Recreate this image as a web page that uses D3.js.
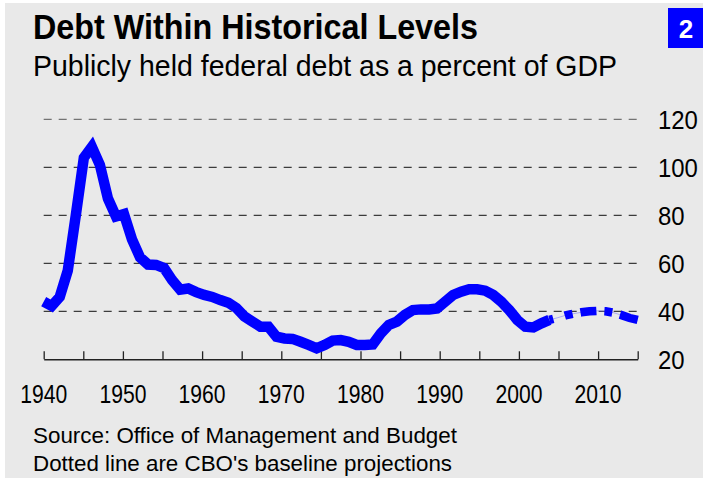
<!DOCTYPE html>
<html>
<head>
<meta charset="utf-8">
<script src="https://cdn.jsdelivr.net/npm/d3@7"></script>
<style>
  html, body { margin: 0; padding: 0; background: #ffffff; }
  svg { display: block; }
  text { font-family: "Liberation Sans", Arial, sans-serif; fill: #000; }
</style>
</head>
<body>
<svg id="chart" width="703" height="481"></svg>
<script>
// Publicly held federal debt, percent of GDP (fiscal years)
const actualYears = d3.range(1940, 2004);
const actualValues = [
  44.0, 42.2, 46.0, 57.0, 80.0, 104.0, 108.5, 101.0, 87.0, 79.5,   // 1940s
  80.5, 70.0, 62.5, 59.5, 59.3, 58.0, 53.0, 49.0, 49.5, 48.0,      // 1950s
  46.8, 46.0, 44.7, 43.6, 41.4, 37.9, 35.7, 33.6, 33.6, 29.4,      // 1960s
  28.7, 28.5, 27.3, 26.0, 24.6, 26.0, 27.8, 28.0, 27.3, 26.0,      // 1970s
  26.0, 26.2, 30.8, 34.3, 35.7, 38.5, 40.5, 40.8, 40.8, 41.2,      // 1980s
  44.0, 46.8, 48.2, 49.2, 49.2, 48.6, 46.8, 44.0, 40.5, 36.4,      // 1990s
  33.6, 33.3, 35.0, 36.4                                           // 2000-2003
];

// CBO baseline projections
const projectionYears = d3.range(2003, 2015);
const projectionValues = [36.4, 37.3, 38.3, 39.0, 39.6, 40.0, 40.2, 40.0, 39.4, 38.4, 37.2, 36.4];

const xTickYears = d3.range(1940, 2016, 5);
const xLabelYears = d3.range(1940, 2011, 10);
const yTickValues = [20, 40, 60, 80, 100, 120];

const titleText = "Debt Within Historical Levels";
const subtitleText = "Publicly held federal debt as a percent of GDP";
const sourceLines = ["Source: Office of Management and Budget", "Dotted line are CBO's baseline projections"];
const badgeText = "2";

const svg = d3.select("#chart");
const W = 703, H = 481;

// panel background
svg.append("rect")
  .attr("x", 5).attr("y", 3).attr("width", W - 5).attr("height", 475)
  .attr("fill", "#e9e9e9");

// plot area
const plotLeft = 43.7, plotRight = 637.7, plotTop = 119.3, plotBottom = 359.3;

// axis spans 1940-2015; annual points spread across the same width
const xAxisScale = d3.scaleLinear().domain([1940, 2015]).range([plotLeft, plotRight]);
const xData = d3.scaleLinear().domain([1940, 2014]).range([plotLeft, plotRight]);
const y = d3.scaleLinear().domain([20, 120]).range([plotBottom, plotTop]);

// dashed gridlines
svg.append("g")
  .selectAll("line")
  .data(yTickValues.filter(v => v > 20))
  .join("line")
  .attr("x1", plotLeft).attr("x2", plotRight)
  .attr("y1", d => y(d)).attr("y2", d => y(d))
  .attr("stroke", d => d === 120 ? "#555" : "#111")
  .attr("stroke-width", 1)
  .attr("stroke-dasharray", "8,7");

// right-hand value labels
svg.append("g")
  .selectAll("text")
  .data(yTickValues)
  .join("text")
  .attr("x", 658)
  .attr("y", d => y(d) + 10)
  .attr("font-size", 26)
  .attr("textLength", d => String(d).length * 13.3)
  .attr("lengthAdjust", "spacingAndGlyphs")
  .text(d => d);

// x axis: baseline with upward ticks
const xAxis = d3.axisTop(xAxisScale)
  .tickValues(xTickYears)
  .tickSize(8)
  .tickSizeOuter(0)
  .tickFormat("");
const axisG = svg.append("g")
  .attr("transform", `translate(0,${plotBottom})`)
  .call(xAxis);
axisG.select(".domain").attr("stroke", "#222").attr("stroke-width", 1.5);
axisG.selectAll(".tick line").attr("stroke", "#222").attr("stroke-width", 1.3);

// year labels
svg.append("g")
  .selectAll("text")
  .data(xLabelYears)
  .join("text")
  .attr("x", d => xAxisScale(d))
  .attr("y", 403)
  .attr("text-anchor", "middle")
  .attr("font-size", 26)
  .attr("textLength", 47)
  .attr("lengthAdjust", "spacingAndGlyphs")
  .text(d => d);

const line = d3.line()
  .x(d => xData(d[0]))
  .y(d => y(d[1]))
  .curve(d3.curveLinear);

const actual = actualYears.map((yr, i) => [yr, actualValues[i]]);
const projection = projectionYears.map((yr, i) => [yr, projectionValues[i]]);

// faint connector under the projected dashes
svg.append("path")
  .datum(projection)
  .attr("d", line)
  .attr("fill", "none")
  .attr("stroke", "#6a6aff")
  .attr("stroke-opacity", 0.5)
  .attr("stroke-width", 1);

// projected path, dashed
svg.append("path")
  .datum(projection)
  .attr("d", line)
  .attr("fill", "none")
  .attr("stroke", "#0000ff")
  .attr("stroke-width", 8.5)
  .attr("stroke-dasharray", "4,12,8,8,16,8,8,8,20");

// historical path
svg.append("path")
  .datum(actual)
  .attr("d", line)
  .attr("fill", "none")
  .attr("stroke", "#0000ff")
  .attr("stroke-width", 10.5)
  .attr("stroke-linejoin", "miter")
  .attr("stroke-miterlimit", 2);

// title and subtitle
svg.append("text")
  .attr("x", 33).attr("y", 39)
  .attr("font-size", 35)
  .attr("font-weight", "bold")
  .attr("textLength", 445)
  .attr("lengthAdjust", "spacingAndGlyphs")
  .text(titleText);

svg.append("text")
  .attr("x", 33).attr("y", 76)
  .attr("font-size", 30)
  .attr("textLength", 584)
  .attr("lengthAdjust", "spacingAndGlyphs")
  .text(subtitleText);

// chart number badge
svg.append("rect")
  .attr("x", 668).attr("y", 8).attr("width", 35).attr("height", 40)
  .attr("fill", "#0000ff");
svg.append("text")
  .attr("x", 686).attr("y", 38)
  .attr("text-anchor", "middle")
  .attr("font-size", 26)
  .attr("font-weight", "bold")
  .style("fill", "#fff")
  .text(badgeText);

// source notes
svg.append("g")
  .selectAll("text")
  .data(sourceLines)
  .join("text")
  .attr("x", 33)
  .attr("y", (d, i) => 443 + i * 28)
  .attr("font-size", 22)
  .attr("textLength", (d, i) => i === 0 ? 424 : 419)
  .attr("lengthAdjust", "spacingAndGlyphs")
  .text(d => d);
</script>
</body>
</html>
